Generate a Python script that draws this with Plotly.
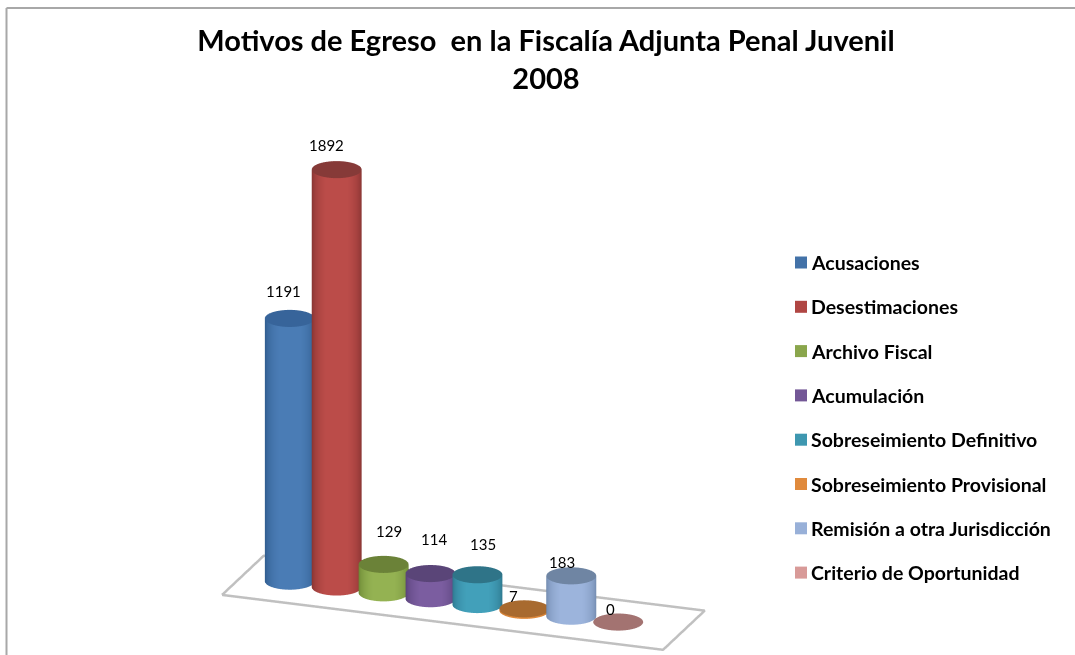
import math
import numpy as np
import plotly.graph_objects as go

categories = ["Acusaciones", "Desestimaciones", "Archivo Fiscal", "Acumulación",
              "Sobreseimiento Definitivo", "Sobreseimiento Provisional",
              "Remisión a otra Jurisdicción", "Criterio de Oportunidad"]
values = [1191, 1892, 129, 114, 135, 7, 183, 0]
colors = ["#4a7cb5", "#bb4c49", "#94b252", "#7b5da0", "#42a0ba", "#e08a3c", "#9cb4dc", "#d89a98"]
edge_colors = ["#2a5585", "#7c2f2d", "#64802f", "#4f3a6e", "#2a6f85", "#c0722c", "#6b84a8", "#b07a78"]
cap_colors = ["#37649a", "#863a38", "#6b8238", "#5a4578", "#2f7488", "#a86a2f", "#6f85a3", "#a37371"]
swatch_colors = ["#4372a8", "#b04643", "#8aa64c", "#735796", "#3e97b0", "#e08a3c", "#98b0d8", "#d89a98"]
label_shift = [(-6, 28), (-10, 25), (5, 33), (3, 35), (5, 31), (-11, 13), (-10, 14), (-8, 13)]

TITLE = "Motivos de Egreso  en la Fiscalía Adjunta Penal Juvenil<br>2008"
R = 0.5
AZ = math.radians(20)
EL = math.radians(20)
DIST = 5
theta = np.linspace(0, 2 * math.pi, 73)
view_angle = -math.pi / 2 + AZ

fig = go.Figure()

# floor outline
fx = [-1.0, 8.4, 8.4, -1.0, -1.0]
fy = [-1.22, -1.22, 1.22, 1.22, -1.22]
fig.add_trace(go.Scatter3d(x=fx, y=fy, z=[0] * 5, mode="lines",
                           line=dict(color="#c0c0c0", width=5),
                           hoverinfo="skip", showlegend=False))

annotations3d = []
for i, (cat, v, c, e, cap, sh) in enumerate(zip(categories, values, colors, edge_colors, cap_colors, label_shift)):
    X = np.vstack([i + R * np.cos(theta)] * 2)
    Y = np.vstack([R * np.sin(theta)] * 2)
    Z = np.vstack([np.zeros_like(theta), np.full_like(theta, float(v))])
    shade = np.clip(np.cos(theta - view_angle), 0, 1)
    fig.add_trace(go.Surface(x=X, y=Y, z=Z, surfacecolor=np.vstack([shade, shade]),
                             colorscale=[[0, e], [0.9, c], [1, c]], cmin=0, cmax=1,
                             showscale=False, hoverinfo="skip",
                             lighting=dict(ambient=1, diffuse=0, specular=0, fresnel=0, roughness=1)))
    rr = np.array([0, R])
    Xc = np.outer(rr, np.cos(theta)) + i
    Yc = np.outer(rr, np.sin(theta))
    Zc = np.full_like(Xc, float(v))
    fig.add_trace(go.Surface(x=Xc, y=Yc, z=Zc, surfacecolor=np.ones_like(Xc),
                             colorscale=[[0, cap], [1, cap]], cmin=0, cmax=1,
                             showscale=False, hoverinfo="skip",
                             lighting=dict(ambient=1, diffuse=0, specular=0, fresnel=0, roughness=1)))
    annotations3d.append(dict(x=i, y=0, z=v, text=str(v), showarrow=False,
                              xshift=sh[0], yshift=sh[1],
                              font=dict(family="Lato", size=15, color="#000")))

shapes = [
    dict(type="line", xref="paper", yref="paper", x0=6.5 / 1075, x1=1, y0=1 - 8 / 655, y1=1 - 8 / 655,
         line=dict(color="#a8a8a8", width=2)),
    dict(type="line", xref="paper", yref="paper", x0=6.5 / 1075, x1=6.5 / 1075, y0=0, y1=1 - 8 / 655,
         line=dict(color="#a8a8a8", width=2)),
]
annotations = []
for i, (cat, c) in enumerate(zip(categories, swatch_colors)):
    yc = 262.5 + i * 44.3
    shapes.append(dict(type="rect", xref="paper", yref="paper",
                       x0=795 / 1075, x1=807 / 1075, y0=1 - (yc + 6) / 655, y1=1 - (yc - 6) / 655,
                       fillcolor=c, line=dict(width=0)))
    annotations.append(dict(x=809 / 1075, y=1 - yc / 655, xref="paper", yref="paper",
                            xanchor="left", yanchor="middle", showarrow=False,
                            text="<b>%s</b>" % cat,
                            font=dict(family="Lato", size=19.5, color="#000")))

fig.update_layout(
    width=1075, height=655, margin=dict(l=0, r=0, t=0, b=0),
    paper_bgcolor="white", showlegend=False,
    title=dict(text="<b>%s</b>" % TITLE, x=546 / 1075, xanchor="center", y=1 - 51 / 655, yanchor="middle",
               font=dict(family="Lato", size=29, color="#000")),
    shapes=shapes, annotations=annotations,
    scene=dict(
        domain=dict(x=[0.0, 0.845], y=[0.0, 0.836]),
        xaxis=dict(visible=False, range=[-2.4, 9.4]),
        yaxis=dict(visible=False, range=[-2, 2]),
        zaxis=dict(visible=False, range=[-100, 2100]),
        aspectmode="manual", aspectratio=dict(x=2.15, y=0.729, z=1.885),
        camera=dict(eye=dict(x=DIST * math.cos(EL) * math.sin(AZ),
                             y=-DIST * math.cos(EL) * math.cos(AZ),
                             z=DIST * math.sin(EL)),
                    center=dict(x=0, y=0, z=0), up=dict(x=0, y=0, z=1),
                    projection=dict(type="orthographic")),
        annotations=annotations3d,
        bgcolor="white",
    ),
)
fig.write_html("out.html", config=dict(displayModeBar=False),
               post_script="document.body.style.margin='0';")
